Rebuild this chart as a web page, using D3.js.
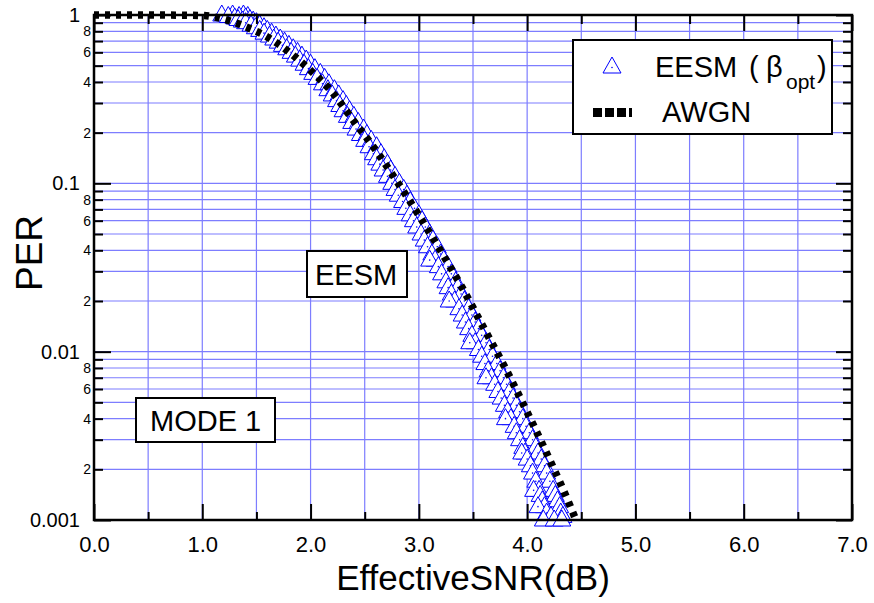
<!DOCTYPE html>
<html><head><meta charset="utf-8">
<script src="https://cdn.jsdelivr.net/npm/d3@7"></script>
<style>body{margin:0;background:#fff}svg{display:block}text{font-family:"Liberation Sans",Arial,Helvetica,sans-serif;fill:#000}</style>
</head><body><svg id="c" width="874" height="603"></svg>
<script>
// AWGN reference curve
const awgnSNR = [0, 0.5, 1.0, 1.2, 1.4, 1.6, 1.8, 2.0, 2.2, 2.4, 2.6, 2.8, 3.0, 3.2, 3.4, 3.6, 3.8, 4.0, 4.2, 4.4, 4.45];
const awgnPER = [1, 1, 0.993, 0.944, 0.851, 0.741, 0.603, 0.468, 0.347, 0.234, 0.158, 0.102, 0.0646, 0.0398, 0.024, 0.0138, 0.00794, 0.00437, 0.00234, 0.0012, 0.001];
// EESM scatter: PER levels with two SNR readings each
const eesmPER = [1.0,0.98,0.96,0.94,0.92,0.90,0.87,0.84,0.81,0.78,0.75,0.72,0.69,0.66,0.63,0.60,0.57,0.54,0.51,0.48,0.45,0.42,0.39,0.36,0.335,0.31,0.29,0.27,0.25,0.23,0.21,0.195,0.18,0.165,0.15,0.14,0.13,0.12,0.11,0.10,0.092,0.085,0.078,0.071,0.065,0.06,0.055,0.05,0.046,0.042,0.038,0.035,0.032,0.029,0.026,0.024,0.022,0.02,0.018,0.0165,0.015,0.0137,0.0125,0.0113,0.0103,0.0094,0.0085,0.0077,0.007,0.0064,0.0058,0.0053,0.0048,0.0044,0.004,0.0036,0.0033,0.003,0.0027,0.0025,0.0023,0.0021,0.0019,0.0017,0.0015,0.0014,0.0013,0.0012,0.0011,0.00105,0.001];
const eesmSNRa = [1.18,1.24,1.30,1.33,1.37,1.40,1.45,1.49,1.53,1.57,1.62,1.66,1.70,1.74,1.78,1.82,1.86,1.90,1.94,1.98,2.02,2.06,2.11,2.16,2.20,2.24,2.27,2.30,2.34,2.38,2.42,2.46,2.50,2.54,2.58,2.61,2.64,2.67,2.71,2.75,2.78,2.81,2.85,2.88,2.92,2.95,2.98,3.02,3.05,3.08,3.12,3.15,3.18,3.21,3.25,3.27,3.30,3.33,3.37,3.40,3.43,3.46,3.49,3.52,3.55,3.58,3.61,3.64,3.67,3.70,3.73,3.76,3.79,3.82,3.85,3.88,3.90,3.93,3.96,3.98,4.00,4.03,4.05,4.08,4.11,4.12,4.14,4.16,4.18,4.22,4.15];
const eesmSNRb = [1.28,1.34,1.40,1.44,1.47,1.50,1.53,1.57,1.60,1.64,1.68,1.72,1.76,1.80,1.84,1.88,1.92,1.96,2.00,2.04,2.09,2.13,2.17,2.22,2.26,2.30,2.33,2.36,2.40,2.44,2.49,2.52,2.56,2.61,2.65,2.68,2.71,2.74,2.78,2.82,2.86,2.89,2.92,2.96,3.00,3.03,3.06,3.10,3.13,3.17,3.20,3.23,3.27,3.30,3.34,3.36,3.39,3.42,3.46,3.49,3.52,3.55,3.58,3.62,3.65,3.68,3.72,3.75,3.78,3.81,3.84,3.87,3.90,3.93,3.96,3.99,4.02,4.05,4.08,4.10,4.13,4.16,4.18,4.21,4.24,4.26,4.28,4.30,4.31,4.33,4.25];
const extraSNR = [1.38, 1.42, 3.10, 3.28, 3.47, 3.62, 3.80, 3.95, 4.06, 4.10, 4.32];
const extraPER = [1.0, 0.98, 0.035, 0.02, 0.0113, 0.007, 0.004, 0.0025, 0.0015, 0.0012, 0.001];
// Axis ticks
const xMajor = [0,1,2,3,4,5,6,7];
const xMinor = [0.5,1.5,2.5,3.5,4.5,5.5,6.5];
const yMajor = [1, 0.1, 0.01, 0.001];
const yMajorLabels = ["1","0.1","0.01","0.001"];
const yMinorMant = [2,3,4,5,6,7,8,9];
const yMinorLabeled = [2,4,6,8];

const svg = d3.select("#c");
const L=94, R=852, T=15, B=520;
const x = d3.scaleLinear().domain([0,7]).range([L,R]);
const y = d3.scaleLog().domain([0.001,1]).range([B,T]);
const yMinor = [];
[0.001,0.01,0.1].forEach(d=>yMinorMant.forEach(m=>yMinor.push(+(d*m).toPrecision(3))));

const grid = svg.append("g").attr("stroke","#7d7dff").attr("stroke-width",1.2);
xMinor.concat(xMajor.slice(1,-1)).forEach(v=>grid.append("line").attr("x1",x(v)).attr("x2",x(v)).attr("y1",T).attr("y2",B));
yMinor.concat([0.1,0.01]).forEach(v=>grid.append("line").attr("x1",L).attr("x2",R).attr("y1",y(v)).attr("y2",y(v)));

// Scatter
const pts = [];
eesmPER.forEach((p,i)=>{pts.push([eesmSNRa[i],p]);pts.push([eesmSNRb[i],p]);});
extraSNR.forEach((s,i)=>pts.push([s,extraPER[i]]));
pts.sort((a,b)=>b[1]-a[1]);
const gTri = svg.append("g");
pts.forEach(d=>{
  const cx=x(d[0]), cy=y(d[1]);
  gTri.append("path").attr("d",`M${cx},${cy-10}L${cx+9},${cy+6}L${cx-9},${cy+6}Z`)
    .attr("fill","#fff").attr("stroke","#0000ff").attr("stroke-width",1);
  gTri.append("circle").attr("cx",cx).attr("cy",cy).attr("r",0.8).attr("fill","#0000ff");
});

// AWGN curve
const line = d3.line().x(d=>x(d[0])).y(d=>y(d[1])).curve(d3.curveMonotoneX);
svg.append("path").datum(awgnSNR.map((s,i)=>[s,awgnPER[i]]))
  .attr("d",line).attr("fill","none").attr("stroke","#000").attr("stroke-width",7.5).attr("stroke-dasharray","5,6");

// Axes
function styleAxis(g){g.select(".domain").remove();g.selectAll(".tick line").attr("stroke","#000").attr("stroke-width",2);}
svg.append("g").attr("transform",`translate(0,${B})`)
  .call(d3.axisBottom(x).tickValues(xMajor).tickSize(-16).tickPadding(16).tickFormat(d3.format(".1f")))
  .call(styleAxis).call(g=>g.selectAll("text").attr("font-size",22).attr("font-family",null));
svg.append("g").attr("transform",`translate(0,${B})`)
  .call(d3.axisBottom(x).tickValues(xMinor).tickSize(-8).tickFormat("")).call(styleAxis);
svg.append("g").attr("transform",`translate(0,${T})`)
  .call(d3.axisTop(x).tickValues(xMajor).tickSize(-16).tickFormat("")).call(styleAxis);
svg.append("g").attr("transform",`translate(0,${T})`)
  .call(d3.axisTop(x).tickValues(xMinor).tickSize(-9).tickFormat("")).call(styleAxis);
svg.append("g").attr("transform",`translate(${L},0)`)
  .call(d3.axisLeft(y).tickValues(yMajor).tickSize(-17).tickPadding(14).tickFormat((d,i)=>yMajorLabels[i]))
  .call(styleAxis).call(g=>g.selectAll("text").attr("font-size",20).attr("font-family",null));
svg.append("g").attr("transform",`translate(${L},0)`)
  .call(d3.axisLeft(y).tickValues(yMinor).tickSize(-9).tickPadding(3)
    .tickFormat(d=>{const m=Math.round(d/Math.pow(10,Math.floor(Math.log10(d)+1e-9)));return yMinorLabeled.includes(m)?String(m):"";}))
  .call(styleAxis).call(g=>g.selectAll("text").attr("font-size",14).attr("font-family",null));
svg.append("g").attr("transform",`translate(${R},0)`)
  .call(d3.axisRight(y).tickValues(yMajor).tickSize(-16).tickFormat("")).call(styleAxis);
svg.append("g").attr("transform",`translate(${R},0)`)
  .call(d3.axisRight(y).tickValues(yMinor).tickSize(-9).tickFormat("")).call(styleAxis);
svg.append("rect").attr("x",L).attr("y",T).attr("width",R-L).attr("height",B-T)
  .attr("fill","none").attr("stroke","#000").attr("stroke-width",2.5);

// Titles
svg.append("text").attr("x",(L+R)/2).attr("y",590).attr("text-anchor","middle").attr("font-size",35).text("EffectiveSNR(dB)");
svg.append("text").attr("transform","translate(42,253) rotate(-90)").attr("text-anchor","middle").attr("font-size",37).text("PER");

// Annotation boxes
function box(x0,y0,w,h,tx,ty,label){
  svg.append("rect").attr("x",x0).attr("y",y0).attr("width",w).attr("height",h).attr("fill","#fff").attr("stroke","#000").attr("stroke-width",2);
  svg.append("text").attr("x",tx).attr("y",ty).attr("font-size",29).text(label);
}
box(307,251,100,46,315,285,"EESM");
box(136,398,139,44,150,431,"MODE 1");

// Legend
svg.append("rect").attr("x",573).attr("y",40).attr("width",259).attr("height",94).attr("fill","#fff").attr("stroke","#000").attr("stroke-width",2);
svg.append("path").attr("d","M612,57L621,73L603,73Z").attr("fill","#fff").attr("stroke","#0000ff").attr("stroke-width",1);
svg.append("circle").attr("cx",612).attr("cy",67.5).attr("r",0.8).attr("fill","#0000ff");
svg.append("text").attr("x",655).attr("y",77).attr("font-size",29).text("EESM");
svg.append("text").attr("x",749).attr("y",77).attr("font-size",29).text("(");
svg.append("text").attr("x",766).attr("y",77).attr("font-size",29).text("β");
svg.append("text").attr("x",786).attr("y",89).attr("font-size",21).text("opt");
svg.append("text").attr("x",817).attr("y",77).attr("font-size",29).text(")");
svg.append("line").attr("x1",593).attr("x2",632).attr("y1",112.5).attr("y2",112.5).attr("stroke","#000").attr("stroke-width",9).attr("stroke-dasharray","9,3");
svg.append("text").attr("x",662).attr("y",122).attr("font-size",29).text("AWGN");
</script></body></html>
